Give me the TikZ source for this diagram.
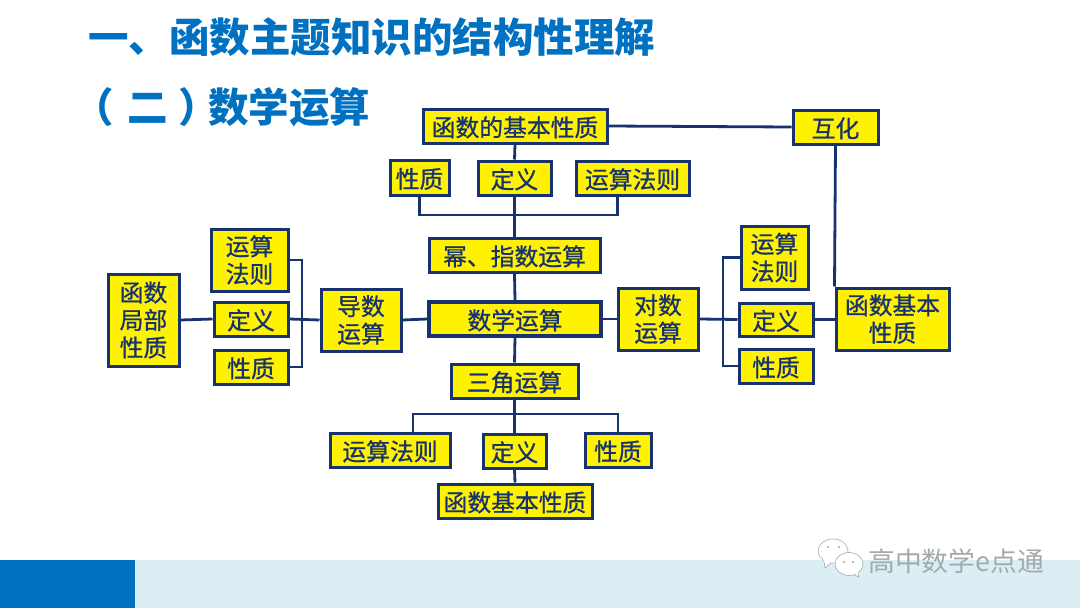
\documentclass[tikz,border=0pt]{standalone}
\usepackage{fontspec}
\setmainfont{Noto Sans CJK SC}
\newfontfamily\labelfont[FakeBold=0.8]{Noto Sans CJK SC}
\usepackage{xcolor}
\usetikzlibrary{positioning}
\definecolor{linknavy}{HTML}{17326F}
\definecolor{titleblue}{HTML}{0070C0}
\definecolor{barlight}{HTML}{DAEEF3}
\definecolor{markgray}{HTML}{A3A9AD}
\tikzset{
	topic/.style={draw=linknavy, line width=3pt, fill=yellow, text=linknavy, inner sep=0pt, align=center, font=\labelfont\fontsize{23.8}{27.5}\selectfont, execute at begin node={\rule{0pt}{22.8pt}}},
	link/.style={draw=linknavy, line width=2.8pt},
	heading/.style={text=titleblue, inner sep=0pt, anchor=west, font=\bfseries\fontsize{40.5}{44}\selectfont},
	bubble/.style={draw=markgray, line width=.6pt, fill=white, line join=round}
}
\newcommand{\topicbox}[6]{
	\node[topic, minimum width=#4pt, minimum height=#5pt] (#1) at (#2,#3) {#6};
}
\begin{document}
\begin{tikzpicture}[x=1pt,y=-1pt]
			\useasboundingbox (0,0) rectangle (1080,608);
			
			% Footer band and title lines.
			\fill[barlight] (135,560) rectangle (1080,608);
			\fill[titleblue] (0,560) rectangle (135,608);
			\node[heading] (title) at (88,37) {一、函数主题知识的结构性理解};
			\node[heading] (subtitle) at (73,107) {（\hspace{13.75pt}二\hspace{10.75pt}）\hspace{-11pt}数学运算};
			
			% Centre column.
			\topicbox{basic}{515}{126}{184}{34}{函数的基本性质}
			\topicbox{top-prop}{419.5}{177.5}{59}{35}{性质}
			\topicbox{top-def}{514.5}{178}{73}{34}{定义}
			\topicbox{top-rule}{632.5}{178}{113}{34}{运算法则}
			\topicbox{power}{514.5}{255}{171}{34}{幂、指数运算}
			\node[topic, minimum width=172pt, minimum height=34pt, line width=3.4pt] (math) at (515,319) {数学运算};
			\topicbox{trig}{514.5}{381}{127}{34}{三角运算}
			\topicbox{low-rule}{390}{450}{120}{34}{运算法则}
			\topicbox{low-def}{514.5}{451}{63}{34}{定义}
			\topicbox{low-prop}{618}{450}{66}{34}{性质}
			\topicbox{low-basic}{515}{501}{154}{34}{函数基本性质}
			
			% Left wing.
			\topicbox{local}{143.5}{320}{71}{92}{函数\\局部\\性质}
			\topicbox{left-rule}{249.5}{260}{77}{62}{运算\\法则}
			\topicbox{left-def}{251}{319}{74}{34}{定义}
			\topicbox{left-prop}{251}{367}{74}{34}{性质}
			\topicbox{deriv}{361}{320}{80}{62}{导数\\运算}
			
			% Right wing.
			\topicbox{log}{658}{319}{80}{62}{对数\\运算}
			\topicbox{right-rule}{774.5}{257.5}{67}{63}{运算\\法则}
			\topicbox{right-def}{776}{319.5}{74}{33}{定义}
			\topicbox{right-prop}{776}{366}{74}{34}{性质}
			\topicbox{right-basic}{892.5}{319}{113}{62}{函数基本\\性质}
			\topicbox{swap}{835.5}{127}{85}{34}{互化}
			
			% Junction points.
			\coordinate (top-bus) at (515,215);
			\coordinate (low-bus) at (515,414);
			\coordinate (left-bus) at (302,319);
			\coordinate (right-bus) at (723,319);
			
			% Centre column links.
			\draw[link] (basic.south) -- (top-def.north);
			\draw[link] (top-def.south) -- (power.north);
			\draw[link] (top-prop.south) |- (top-bus);
			\draw[link] ([xshift=-15pt]top-rule.south) |- (top-bus);
			\draw[link] (power.south) -- (math.north);
			\draw[link] (math.south) -- (trig.north);
			\draw[link] (trig.south) -- (low-def.north);
			\draw[link] ([xshift=23pt]low-rule.north) |- (low-bus);
			\draw[link] (low-prop.north) |- (low-bus);
			\draw[link] (low-def.south) -- (low-basic.north);
			
			% Left wing links.
			\draw[link] (local.east) -- (left-def.west);
			\draw[link] (left-def.east) -- (deriv.west);
			\draw[link] (left-rule.east) -| (left-bus);
			\draw[link] (left-prop.east) -| (left-bus);
			\draw[link] (deriv.east) -- (math.west);
			
			% Right wing links.
			\draw[link] (math.east) -- (log.west);
			\draw[link] (log.east) -- (right-def.west);
			\draw[link] (right-rule.west) -| (right-bus);
			\draw[link] (right-prop.west) -| (right-bus);
			\draw[link] (right-def.east) -- (right-def.east -| right-basic.west);
			\draw[link] (basic.east) -- (swap.west);
			\draw[link] (swap.south) -- (right-basic.north west);
			
			% Watermark.
			\draw[bubble] (824,560) -- (825,568) -- (832,562) -- cycle;
			\draw[bubble] (833,551) ellipse (15 and 12);
			\draw[bubble] (857,571) -- (859,577) -- (850,573) -- cycle;
			\draw[bubble] (849,564) ellipse (14 and 11.5);
			\fill[white] (824,560) -- (825,564) -- (832,562) -- cycle;
			\fill[white] (857,571) -- (858,574) -- (850,573) -- cycle;
			\foreach \dotx/\doty in {828/547, 839/547, 844/562, 853/562}
				\fill[markgray] (\dotx,\doty) circle (1.1);
			\node[text=markgray, inner sep=0pt, anchor=west, font=\fontsize{26.8}{28}\selectfont] (mark-text) at (868,561) {高中数学e点通};
		\end{tikzpicture}
\end{document}
